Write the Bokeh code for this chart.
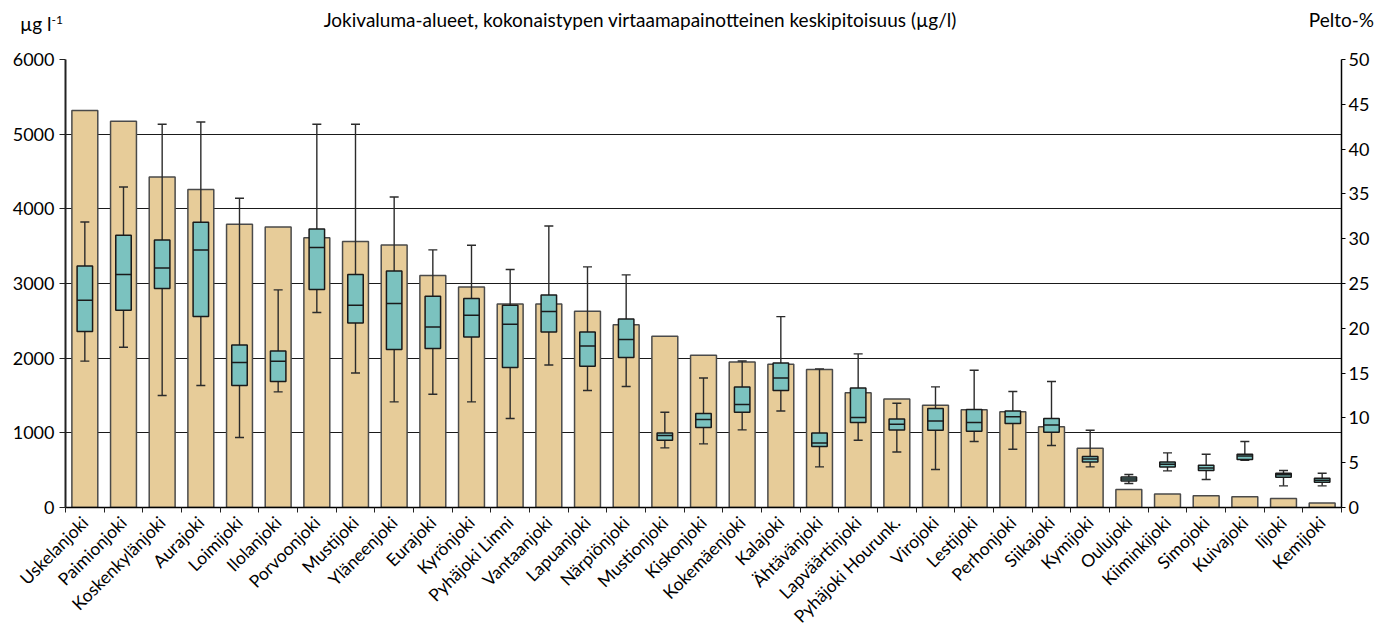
import math
from bokeh.plotting import figure
from bokeh.models import Range1d, LinearAxis, FixedTicker, Div
from bokeh.layouts import column
from bokeh.embed import file_html
from bokeh.resources import INLINE

rivers = ["Uskelanjoki", "Paimionjoki", "Koskenkylänjoki", "Aurajoki", "Loimijoki",
          "Ilolanjoki", "Porvoonjoki", "Mustijoki", "Yläneenjoki", "Eurajoki",
          "Kyrönjoki", "Pyhäjoki Limni", "Vantaanjoki", "Lapuanjoki", "Närpiönjoki",
          "Mustionjoki", "Kiskonjoki", "Kokemäenjoki", "Kalajoki", "Ähtävänjoki",
          "Lapväärtinjoki", "Pyhäjoki Hourunk.", "Virojoki", "Lestijoki", "Perhonjoki",
          "Siikajoki", "Kymijoki", "Oulujoki", "Kiiminkijoki", "Simojoki",
          "Kuivajoki", "Iijoki", "Kemijoki"]

pelto_pct = [44.3, 43.1, 36.9, 35.5, 31.6, 31.3, 30.1, 29.7, 29.3, 25.9,
             24.6, 22.7, 22.7, 21.9, 20.4, 19.1, 17.0, 16.25, 16.0, 15.4,
             12.8, 12.1, 11.4, 10.9, 10.7, 9.0, 6.6, 2.0, 1.5, 1.3,
             1.2, 1.0, 0.5]

whisker_low = [1960, 2146, 1500, 1634, 937, 1548, 2611, 1802, 1414, 1517,
               1414, 1192, 1909, 1567, 1620, 798, 852, 1039, 1293, 544,
               901, 744, 509, 884, 781, 830, 544, 321, 490, 375,
               633, 290, 290]
q1 = [2357, 2642, 2932, 2557, 1634, 1687, 2919, 2472, 2116, 2129,
      2284, 1875, 2351, 1892, 2008, 901, 1071, 1276, 1567, 816,
      1138, 1039, 1035, 1022, 1125, 1008, 611, 356, 544, 495,
      643, 406, 339]
median = [2776, 3120, 3208, 3449, 1941, 1959, 3481, 2709, 2731, 2418,
          2575, 2454, 2624, 2164, 2249, 964, 1178, 1379, 1735, 865,
          1205, 1115, 1160, 1138, 1214, 1106, 651, 383, 580, 530,
          691, 437, 366]
q3 = [3235, 3646, 3583, 3820, 2177, 2097, 3730, 3120, 3169, 2829,
      2798, 2709, 2847, 2351, 2526, 999, 1259, 1615, 1936, 999,
      1602, 1186, 1326, 1312, 1294, 1192, 683, 410, 611, 566,
      714, 459, 392]
whisker_high = [3824, 4293, 5132, 5163, 4141, 2914, 5132, 5132, 4159, 3450,
                3512, 3187, 3771, 3222, 3115, 1276, 1735, 1963, 2557, 1856,
                2057, 1397, 1615, 1839, 1553, 1687, 1035, 442, 731, 714,
                884, 495, 459]

left_ticks = [0, 1000, 2000, 3000, 4000, 5000, 6000]
right_ticks = [0, 5, 10, 15, 20, 25, 30, 35, 40, 45, 50]

title_text = "Jokivaluma-alueet, kokonaistypen virtaamapainotteinen keskipitoisuus (µg/l)"
left_unit = "µg l<sup style='font-size:12px'>-1</sup>"
right_unit = "Pelto-%"

FONT = "Lato"
FS = "18px"
n = len(rivers)
xs = list(range(1, n + 1))

HEAD = 40
head_html = (
    "<div style='position:relative;width:1378px;height:%dpx;font-family:Lato;"
    "font-size:19px;color:black;line-height:22px'>"
    "<span style='position:absolute;left:20px;top:9px;white-space:nowrap'>%s</span>"
    "<span style='position:absolute;left:640px;top:9px;transform:translateX(-50%%);"
    "white-space:nowrap'>%s</span>"
    "<span style='position:absolute;right:4px;top:9px;white-space:nowrap'>%s</span>"
    "</div>" % (HEAD, left_unit, title_text, right_unit)
)
head = Div(text=head_html, width=1378, height=HEAD, margin=(0, 0, 0, 0))

p = figure(width=1378, height=637 - HEAD, output_backend="svg", toolbar_location=None,
           x_range=Range1d(0.5, n + 0.5), y_range=Range1d(0, 6000),
           x_axis_location=None, y_axis_location=None,
           min_border_left=65, min_border_right=37, min_border_top=59 - HEAD,
           min_border_bottom=130, margin=(0, 0, 0, 0))
p.outline_line_color = None
p.background_fill_color = "white"
p.extra_y_ranges = {"pct": Range1d(0, 50)}

# grid
p.xgrid.visible = False
p.ygrid.ticker = FixedTicker(ticks=left_ticks)
p.ygrid.grid_line_color = "#1a1a1a"
p.ygrid.grid_line_width = 1.2

# axes
yl = LinearAxis(ticker=FixedTicker(ticks=left_ticks))
yl.major_tick_out = 6
yl.major_tick_in = 0
yl.minor_tick_out = 0
yl.axis_line_width = 2
yl.axis_line_color = "#222222"
yl.major_tick_line_color = "#222222"
yl.major_label_text_font = FONT
yl.major_label_text_font_size = FS
yl.major_label_text_color = "black"
yl.major_label_standoff = 5
p.add_layout(yl, "left")

yr = LinearAxis(y_range_name="pct", ticker=FixedTicker(ticks=right_ticks))
yr.major_tick_out = 4
yr.major_tick_in = 0
yr.minor_tick_out = 0
yr.axis_line_width = 1.5
yr.major_label_text_font = FONT
yr.major_label_text_font_size = FS
yr.major_label_text_color = "black"
yr.major_label_standoff = 3
p.add_layout(yr, "right")

xa = LinearAxis(ticker=FixedTicker(ticks=xs, minor_ticks=[i + 0.5 for i in range(n + 1)]))
xa.major_tick_out = 0
xa.major_tick_in = 0
xa.minor_tick_out = 5
xa.minor_tick_in = 0
xa.minor_tick_line_color = "#222222"
xa.axis_line_width = 1.5
xa.major_label_overrides = {x: r for x, r in zip(xs, rivers)}
xa.major_label_orientation = math.pi / 4
xa.major_label_text_font = FONT
xa.major_label_text_font_size = "17.5px"
xa.major_label_text_color = "black"
xa.major_label_standoff = 7
p.add_layout(xa, "below")

# bars (Pelto-%)
p.vbar(x=xs, top=pelto_pct, bottom=0, width=0.67, y_range_name="pct",
       fill_color="#E7CC99", line_color="#4a4a4a", line_width=1.5)

# whiskers
p.segment(x0=xs, y0=whisker_low, x1=xs, y1=whisker_high, line_color="#2b2b2b", line_width=1.4)
p.scatter(x=xs, y=whisker_low, marker="dash", size=9, line_color="#2b2b2b", line_width=1.4)
p.scatter(x=xs, y=whisker_high, marker="dash", size=9, line_color="#2b2b2b", line_width=1.4)

# boxes
p.vbar(x=xs, top=q3, bottom=q1, width=0.4, fill_color="#7BC2BF",
       line_color="#1a1a1a", line_width=1.5)
p.scatter(x=xs, y=median, marker="dash", size=15.5, line_color="#1a1a1a", line_width=1.5)

layout = column(head, p, spacing=0)
open("out.html", "w").write(file_html(layout, INLINE))
